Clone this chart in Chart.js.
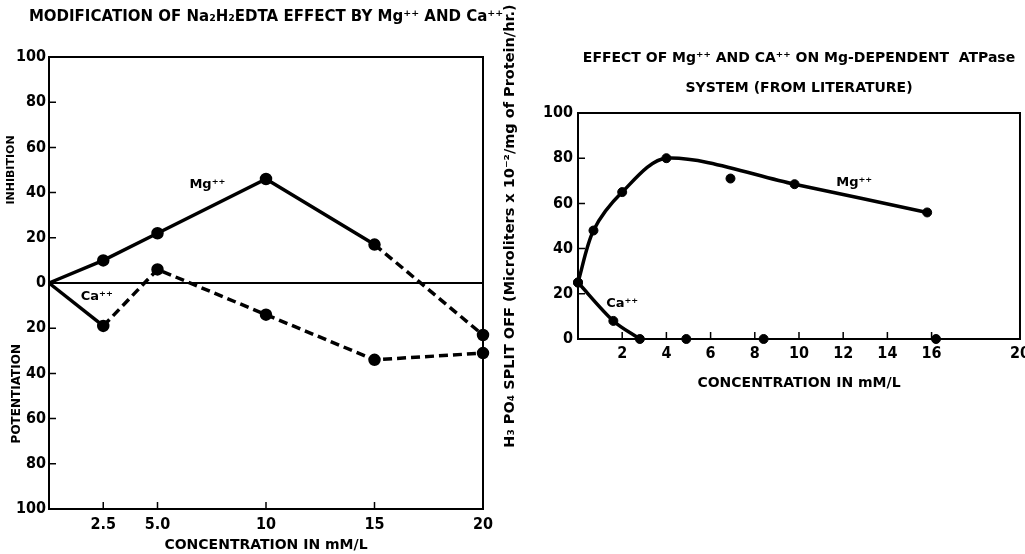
<!DOCTYPE html>
<html>
<head>
<meta charset="utf-8">
<script src="https://cdn.jsdelivr.net/npm/chart.js@4.4.1/dist/chart.umd.min.js"></script>
<style>
  html, body { margin:0; padding:0; background:#fff; }
  #wrap { position:relative; width:1025px; height:554px; overflow:hidden; }
  #left  { position:absolute; left:0;     top:0; }
  #right { position:absolute; left:490px; top:0; }
</style>
</head>
<body>
<div id="wrap">
  <canvas id="left"  width="540" height="554"></canvas>
  <canvas id="right" width="545" height="554"></canvas>
</div>
<script>
/* ---- left panel: Na2H2EDTA effect ---- */
const concL    = [0, 2.5, 5, 10, 15, 20];
const mgEffect = [0, 10, 22, 46, 17, -23];
const caEffect = [0, -19, 6, -14, -34, -31];
const xTicksL  = [2.5, 5, 10, 15, 20];
const xLabelsL = ['2.5', '5.0', '10', '15', '20'];
const yTicksL  = [-100, -80, -60, -40, -20, 0, 20, 40, 60, 80, 100];

/* ---- right panel: literature ATPase ---- */
const mgX    = [0, 0.7, 2, 4, 6.9, 9.8, 15.8];
const mgY    = [25, 48, 65, 80, 71, 68.5, 56];
const mgFitX = [0, 0.7, 2, 4, 9.8, 15.8];
const mgFitY = [25, 48, 65, 80, 68.5, 56];
const caX    = [0, 1.6, 2.8, 4.9, 8.4, 16.2];
const caY    = [25, 8, 0, 0, 0, 0];
const caFitX = [0, 1.6, 2.8];
const caFitY = [25, 8, 0];
const xTicksR = [2, 4, 6, 8, 10, 12, 14, 16, 20];
const yTicksR = [0, 20, 40, 60, 80, 100];

/* ---- styles ---- */
const BOLD   = "'DejaVu Sans', 'Open Sans', sans-serif";
const NARROW = "'Liberation Sans Narrow', 'DejaVu Sans Condensed', sans-serif";
const numFont = { family: NARROW, size: 16, weight: 'bold' };
const mgDashFrom = 15, caDashFrom = 2.5;   // where the left curves turn dashed
const DASH = [9, 5];

const pts = (xs, ys) => xs.map((x, i) => ({ x, y: ys[i] }));

// box round the plot, inward tick marks, in-plot labels
const frame = {
  id: 'frame',
  beforeDatasetsDraw(chart, args, o) {
    const { ctx, chartArea: a, scales: { x, y } } = chart;
    ctx.save();
    ctx.strokeStyle = '#000';
    ctx.lineWidth = 2;
    ctx.strokeRect(a.left, a.top, a.right - a.left, a.bottom - a.top);
    ctx.lineWidth = 1.5;
    ctx.beginPath();
    y.ticks.forEach(t => {
      if (t.value === y.min || t.value === y.max) return;
      const p = y.getPixelForValue(t.value);
      ctx.moveTo(a.left, p); ctx.lineTo(a.left + o.len, p);
    });
    x.ticks.forEach(t => {
      if (t.value >= x.max) return;
      const p = x.getPixelForValue(t.value);
      ctx.moveTo(p, a.bottom); ctx.lineTo(p, a.bottom - o.len);
    });
    ctx.stroke();
    ctx.restore();
  },
  afterDraw(chart, args, o) {
    const { ctx, scales: { x, y } } = chart;
    ctx.save();
    ctx.fillStyle = '#000';
    ctx.textAlign = 'center';
    ctx.textBaseline = 'middle';
    (o.labels || []).forEach(l => {
      ctx.font = `bold ${l.size}px ${BOLD}`;
      ctx.fillText(l.text, x.getPixelForValue(l.x), y.getPixelForValue(l.y));
    });
    (o.side || []).forEach(l => {
      ctx.save();
      ctx.font = `bold ${l.size}px ${BOLD}`;
      ctx.translate(l.px, y.getPixelForValue(l.y));
      ctx.rotate(-Math.PI / 2);
      ctx.fillText(l.text, 0, 0);
      ctx.restore();
    });
    ctx.restore();
  }
};

const lineStyle = {
  borderColor: '#000', backgroundColor: '#000',
  borderWidth: 3.5, pointRadius: c => (c.raw && c.raw.x === 0 ? 0 : 4.5),
  pointHoverRadius: 0, tension: 0, clip: false, fill: false
};

new Chart(document.getElementById('left'), {
  type: 'line',
  data: {
    datasets: [
      { label: 'Mg++', data: pts(concL, mgEffect), ...lineStyle,
        segment: { borderDash: c => (c.p0.parsed.x >= mgDashFrom ? DASH : undefined) } },
      { label: 'Ca++', data: pts(concL, caEffect), ...lineStyle,
        segment: { borderDash: c => (c.p0.parsed.x >= caDashFrom ? DASH : undefined) } }
    ]
  },
  options: {
    responsive: false, animation: false, devicePixelRatio: 1,
    layout: { padding: { left: 0, right: 8, top: 0, bottom: 0 } },
    plugins: {
      legend: { display: false }, tooltip: { enabled: false },
      title: {
        display: true, color: '#000',
        text: 'MODIFICATION OF Na₂H₂EDTA EFFECT BY Mg⁺⁺ AND Ca⁺⁺',
        font: { family: BOLD, size: 15, weight: 'bold', lineHeight: 1.2 },
        padding: { top: 8.5, bottom: 30.5 }
      },
      frame: {
        len: 7,
        labels: [
          { text: 'Mg⁺⁺', x: 7.3, y: 43.5, size: 13 },
          { text: 'Ca⁺⁺', x: 2.2, y: -6, size: 13 }
        ],
        side: [
          { text: 'INHIBITION', px: 11, y: 50, size: 11 },
          { text: 'POTENTIATION', px: 17, y: -49, size: 12 }
        ]
      }
    },
    scales: {
      x: {
        type: 'linear', min: 0, max: 20,
        afterBuildTicks: s => { s.ticks = xTicksL.map(v => ({ value: v })); },
        afterFit: s => { s.height = 45; },
        grid: { display: false, drawTicks: false }, border: { display: false },
        ticks: { color: '#000', font: numFont, padding: 6, maxRotation: 0, autoSkip: false,
                 callback: v => xLabelsL[xTicksL.indexOf(v)] },
        title: { display: true, text: 'CONCENTRATION IN mM/L', color: '#000',
                 font: { family: BOLD, size: 14, weight: 'bold', lineHeight: 1.2 },
                 padding: { top: 0, bottom: 0.6 } }
      },
      y: {
        type: 'linear', min: -100, max: 100,
        afterBuildTicks: s => { s.ticks = yTicksL.map(v => ({ value: v })); },
        afterFit: s => { s.width = 49; },
        grid: { drawTicks: false, lineWidth: 2,
                color: c => (c.tick && c.tick.value === 0 ? '#000' : 'rgba(0,0,0,0)') },
        border: { display: false },
        ticks: { color: '#000', font: numFont, padding: 3, callback: v => Math.abs(v) }
      },
      // empty right-hand spacer so the title centres over the plot
      spacer: {
        type: 'linear', position: 'right', min: -100, max: 100,
        afterFit: s => { s.width = 49; },
        grid: { display: false, drawTicks: false }, border: { display: false },
        ticks: { display: false }
      }
    }
  },
  plugins: [frame]
});

const fitStyle = { borderColor: '#000', borderWidth: 3.5, pointRadius: 0, pointHoverRadius: 0,
                   tension: 0.3, clip: false, fill: false };
const dotStyle = { borderColor: '#000', backgroundColor: '#000', pointRadius: 4.5, pointHoverRadius: 0,
                   showLine: false, clip: false };

new Chart(document.getElementById('right'), {
  type: 'line',
  data: {
    datasets: [
      { label: 'Mg fit', data: pts(mgFitX, mgFitY), ...fitStyle },
      { label: 'Mg++',   data: pts(mgX, mgY),       ...dotStyle },
      { label: 'Ca fit', data: pts(caFitX, caFitY), ...fitStyle },
      { label: 'Ca++',   data: pts(caX, caY),       ...dotStyle }
    ]
  },
  options: {
    responsive: false, animation: false, devicePixelRatio: 1,
    layout: { padding: { left: 0, right: 15, top: 0, bottom: 155 } },
    plugins: {
      legend: { display: false }, tooltip: { enabled: false },
      title: {
        display: true, fullSize: false, color: '#000',
        text: ['EFFECT OF Mg⁺⁺ AND CA⁺⁺ ON Mg-DEPENDENT  ATPase', 'SYSTEM (FROM LITERATURE)'],
        font: { family: BOLD, size: 14, weight: 'bold', lineHeight: 30 / 14 },
        padding: { top: 43, bottom: 10 }
      },
      frame: {
        len: 7,
        labels: [
          { text: 'Mg⁺⁺', x: 12.5, y: 69, size: 13 },
          { text: 'Ca⁺⁺', x: 2.0, y: 15.5, size: 13 }
        ]
      }
    },
    scales: {
      x: {
        type: 'linear', min: 0, max: 20,
        afterBuildTicks: s => { s.ticks = xTicksR.map(v => ({ value: v })); },
        afterFit: s => { s.height = 60; },
        grid: { display: false, drawTicks: false }, border: { display: false },
        ticks: { color: '#000', font: numFont, padding: 5, maxRotation: 0, autoSkip: false },
        title: { display: true, text: 'CONCENTRATION IN mM/L', color: '#000',
                 font: { family: BOLD, size: 14, weight: 'bold', lineHeight: 1.2 },
                 padding: { top: 0, bottom: 7.6 } }
      },
      y: {
        type: 'linear', min: 0, max: 100,
        afterBuildTicks: s => { s.ticks = yTicksR.map(v => ({ value: v })); },
        afterFit: s => { s.width = 88; },
        grid: { display: false, drawTicks: false }, border: { display: false },
        ticks: { color: '#000', font: numFont, padding: 5 },
        title: { display: true, color: '#000',
                 text: 'H₃ PO₄ SPLIT OFF (Microliters x 10⁻²/mg of Protein/hr.)',
                 font: { family: BOLD, size: 14.5, weight: 'bold', lineHeight: 1.2 },
                 padding: { top: 11.3, bottom: 0 } }
      }
    }
  },
  plugins: [frame]
});
</script>
</body>
</html>
